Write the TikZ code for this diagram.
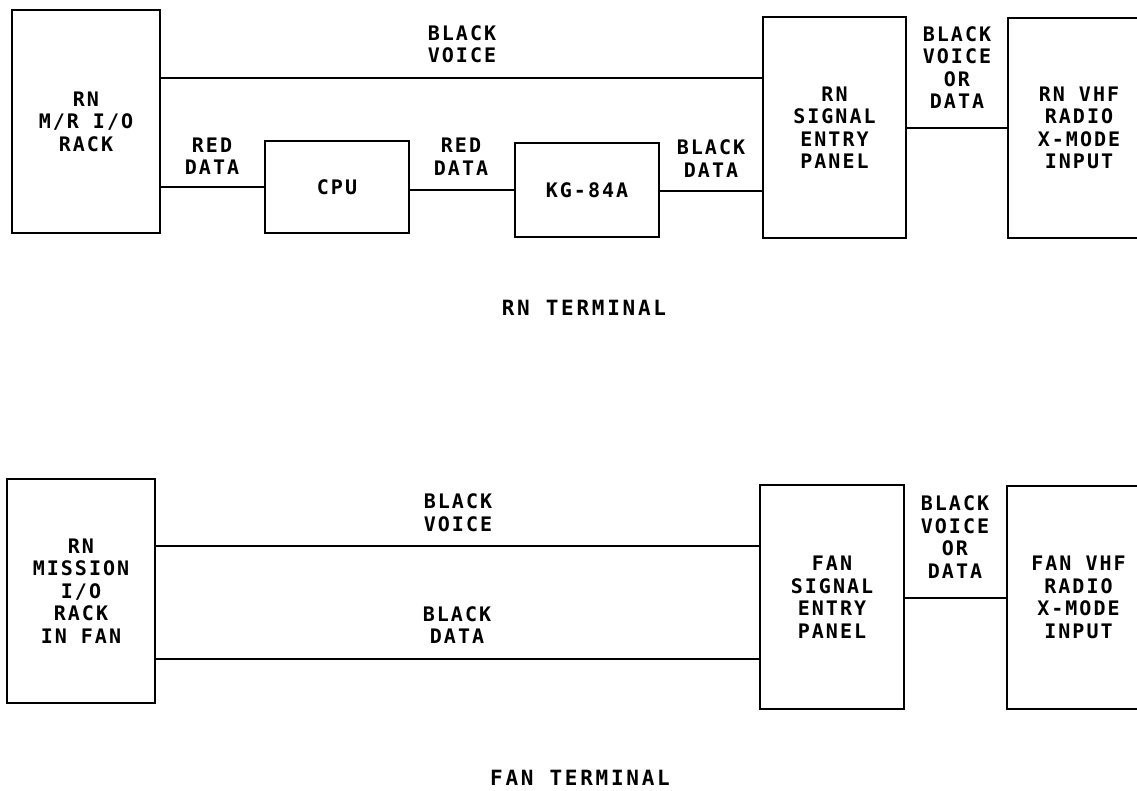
\documentclass[tikz,border=0pt]{standalone}
\usepackage{fontspec}
\newfontfamily\plotfont[LetterSpace=10]{DejaVu Sans Mono Bold}
\newfontfamily\capfont[LetterSpace=13]{DejaVu Sans Mono Bold}
\newcommand{\wsp}{\hspace{14pt}}
\begin{document}
\begin{tikzpicture}[x=1pt,y=-1pt,
  box/.style={draw, line width=2.8pt, inner sep=0pt, align=center,
    font=\plotfont\fontsize{20}{22.5}\selectfont},
  lbl/.style={align=center, inner sep=0pt, font=\plotfont\fontsize{20}{22.5}\selectfont},
  caption/.style={inner sep=0pt, font=\capfont\fontsize{21}{24}\selectfont},
  wire/.style={line width=2.8pt}]
\useasboundingbox (0,0) rectangle (1137,790);
\clip (0,0) rectangle (1137,790);
% ---------- RN terminal ----------
\node[box, minimum width=148pt, minimum height=223pt] (rack1) at (86,121.5) {RN\\M/R\wsp I/O\\RACK};
\node[box, minimum width=144pt, minimum height=92pt] (cpu) at (337,187) {CPU};
\node[box, minimum width=144pt, minimum height=94pt] (kg) at (587,190) {KG-84A};
\node[box, minimum width=143pt, minimum height=221pt] (sep1) at (834.5,127.5) {RN\\SIGNAL\\ENTRY\\PANEL};
\node[box, minimum width=142pt, minimum height=220pt] (radio1) at (1079,128) {RN\wsp VHF\\RADIO\\X-MODE\\INPUT};
\coordinate (bv1) at (0,78);
\coordinate (rd1) at (0,187);
\coordinate (rd2) at (0,190);
\coordinate (bd1) at (0,191);
\coordinate (ro1) at (0,128);
\draw[wire] (rack1.east |- bv1) -- (sep1.west |- bv1);
\draw[wire] (rack1.east |- rd1) -- (cpu.west |- rd1);
\draw[wire] (cpu.east |- rd2) -- (kg.west |- rd2);
\draw[wire] (kg.east |- bd1) -- (sep1.west |- bd1);
\draw[wire] (sep1.east |- ro1) -- (radio1.west |- ro1);
\node[lbl] (l1) at (462,44) {BLACK\\VOICE};
\node[lbl] (l2) at (212,156) {RED\\DATA};
\node[lbl] (l3) at (461,156.5) {RED\\DATA};
\node[lbl] (l4) at (711,158.5) {BLACK\\DATA};
\node[lbl] (l5) at (957,67.5) {BLACK\\VOICE\\OR\\DATA};
\node[caption] (cap1) at (584,308) {RN\hspace{16pt}TERMINAL};
% ---------- FAN terminal ----------
\node[box, minimum width=148pt, minimum height=224pt] (rack2) at (81,591) {RN\\MISSION\\I/O\\RACK\\IN\wsp FAN};
\node[box, minimum width=144pt, minimum height=224pt] (sep2) at (832,597) {FAN\\SIGNAL\\ENTRY\\PANEL};
\node[box, minimum width=143pt, minimum height=223pt] (radio2) at (1078.5,597.5) {FAN\wsp VHF\\RADIO\\X-MODE\\INPUT};
\coordinate (bv2) at (0,546);
\coordinate (bd2) at (0,659);
\coordinate (ro2) at (0,598);
\draw[wire] (rack2.east |- bv2) -- (sep2.west |- bv2);
\draw[wire] (rack2.east |- bd2) -- (sep2.west |- bd2);
\draw[wire] (sep2.east |- ro2) -- (radio2.west |- ro2);
\node[lbl] (m1) at (458,512.5) {BLACK\\VOICE};
\node[lbl] (m2) at (457,625) {BLACK\\DATA};
\node[lbl] (m3) at (955,537) {BLACK\\VOICE\\OR\\DATA};
\node[caption] (cap2) at (580,778) {FAN\hspace{16pt}TERMINAL};
\end{tikzpicture}
\end{document}
